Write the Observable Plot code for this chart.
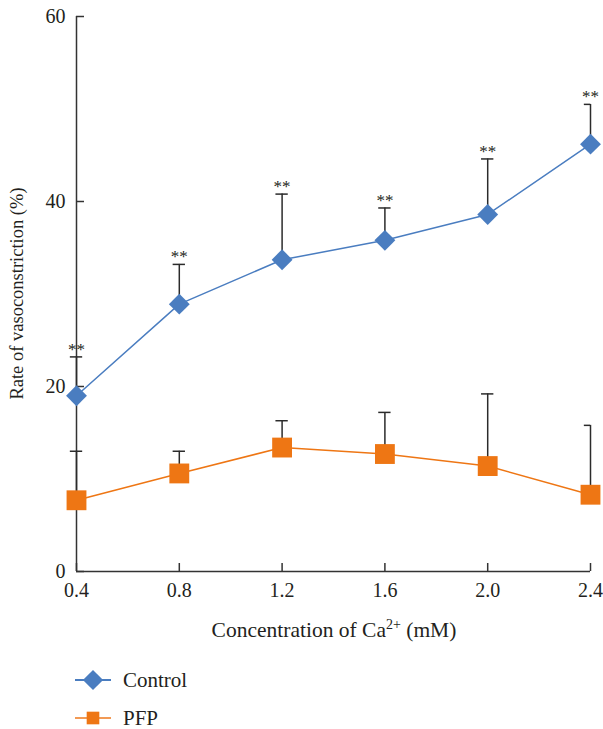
<!DOCTYPE html>
<html>
<head>
<meta charset="utf-8">
<script src="https://cdn.jsdelivr.net/npm/d3@7"></script>
<script src="https://cdn.jsdelivr.net/npm/@observablehq/plot@0.6"></script>
<style>
  html, body { margin: 0; padding: 0; background: #fff; }
  #chart svg { display: block; }
</style>
</head>
<body>
<div id="chart"></div>
<script>
// ---- data ----
const concentrations = [0.4, 0.8, 1.2, 1.6, 2.0, 2.4];
const controlMean  = [19.0, 28.9, 33.7, 35.8, 38.6, 46.2];
const controlUpper = [23.2, 33.2, 40.8, 39.3, 44.6, 50.5];
const controlStars = ["**", "**", "**", "**", "**", "**"];
const pfpMean  = [7.7, 10.6, 13.4, 12.7, 11.4, 8.3];
const pfpUpper = [13.0, 13.0, 16.3, 17.2, 19.2, 15.8];
const seriesNames = ["Control", "PFP"];
const yTicks = [0, 20, 40, 60];
const xTicks = [0.4, 0.8, 1.2, 1.6, 2.0, 2.4];
const yLabel = "Rate of vasoconstriction (%)";
const xLabelParts = ["Concentration of Ca", "2+", " (mM)"];

const colors = {Control: "#4a7dc0", PFP: "#ee7614"};
const FONT = "'Liberation Serif', 'Times New Roman', serif";
const AXIS = "#333";
const xMin = 0.4, xMax = 2.4;
const capHalf = 0.024;

const rows = [];
concentrations.forEach((c, i) => {
  rows.push({series: "Control", x: c, y: controlMean[i], up: controlUpper[i], star: controlStars[i]});
});
concentrations.forEach((c, i) => {
  rows.push({series: "PFP", x: c, y: pfpMean[i], up: pfpUpper[i], star: ""});
});
const ctrl = rows.filter(d => d.series === "Control");
const pfp = rows.filter(d => d.series === "PFP");

const W = 603, H = 729;
const plot = Plot.plot({
  width: W,
  height: H,
  marginLeft: 76,
  marginRight: 13,
  marginTop: 16,
  marginBottom: 158,
  style: {fontFamily: FONT, color: "#231f20", background: "#fff"},
  x: {domain: [xMin, xMax]},
  y: {domain: [0, 60]},
  marks: [
    // axis lines
    Plot.ruleX([xMin], {y1: 0, y2: 60, stroke: AXIS, strokeWidth: 1.5}),
    Plot.ruleY([0], {x1: xMin, x2: xMax, stroke: AXIS, strokeWidth: 1.5}),
    Plot.axisY({ticks: yTicks, tickSize: -8, tickPadding: 19, fontSize: 20, label: null, stroke: AXIS, strokeWidth: 1.5}),
    Plot.axisX({ticks: xTicks, tickSize: -8, tickPadding: 19, fontSize: 20, label: null, tickFormat: d3.format(".1f"), stroke: AXIS, strokeWidth: 1.5}),
    // connecting lines
    Plot.line(ctrl, {x: "x", y: "y", stroke: colors.Control, strokeWidth: 1.5}),
    Plot.line(pfp, {x: "x", y: "y", stroke: colors.PFP, strokeWidth: 1.5}),
    // error bars (upper only)
    Plot.ruleX(rows, {x: "x", y1: "y", y2: "up", stroke: "#2b2b2b", strokeWidth: 1.5}),
    Plot.ruleY(rows, {y: "up", x1: d => d.x - capHalf, x2: d => Math.min(d.x + capHalf, xMax), stroke: "#2b2b2b", strokeWidth: 1.5}),
    // markers
    Plot.dot(ctrl, {x: "x", y: "y", symbol: "diamond2", r: 9.4, fill: colors.Control, stroke: "none"}),
    Plot.dot(pfp, {x: "x", y: "y", symbol: "square", r: 11.2, fill: colors.PFP, stroke: "none"}),
    // significance stars
    Plot.text(ctrl, {x: "x", y: "up", text: "star", dy: -2, lineAnchor: "bottom", fontSize: 17, fill: "#231f20"})
  ]
});
document.getElementById("chart").appendChild(plot);

// ---- labels and legend added into the same svg ----
const svg = d3.select(plot);
const ys = plot.scale("y");
const frameTop = ys.apply(60), frameBottom = ys.apply(0);

svg.append("text")
  .attr("transform", `translate(19,${(frameTop + frameBottom) / 2}) rotate(-90)`)
  .attr("text-anchor", "middle")
  .attr("dominant-baseline", "middle")
  .attr("font-family", FONT).attr("font-size", 18.5).attr("fill", "#231f20")
  .text(yLabel);

const xl = svg.append("text")
  .attr("x", 334).attr("y", 637)
  .attr("text-anchor", "middle")
  .attr("font-family", FONT).attr("font-size", 21.5).attr("fill", "#231f20");
xl.append("tspan").text(xLabelParts[0]);
xl.append("tspan").attr("font-size", 14).attr("dy", -8).text(xLabelParts[1]);
xl.append("tspan").attr("dy", 8).text(xLabelParts[2]);

const legendRows = [
  {name: seriesNames[0], y: 680, symbol: d3.symbolDiamond2, size: 260, stroke: colors.Control},
  {name: seriesNames[1], y: 718, symbol: d3.symbolSquare, size: 160, stroke: "#f29a55"}
];
legendRows.forEach(r => {
  const g = svg.append("g");
  g.append("line").attr("x1", 75).attr("x2", 111).attr("y1", r.y).attr("y2", r.y)
    .attr("stroke", r.stroke).attr("stroke-width", 1.8);
  g.append("path").attr("d", d3.symbol(r.symbol, r.size)())
    .attr("transform", `translate(93,${r.y})`).attr("fill", colors[r.name]);
  g.append("text").attr("x", 123).attr("y", r.y + 7)
    .attr("text-anchor", "start")
    .attr("font-family", FONT).attr("font-size", 21).attr("fill", "#231f20").text(r.name);
});
</script>
</body>
</html>
